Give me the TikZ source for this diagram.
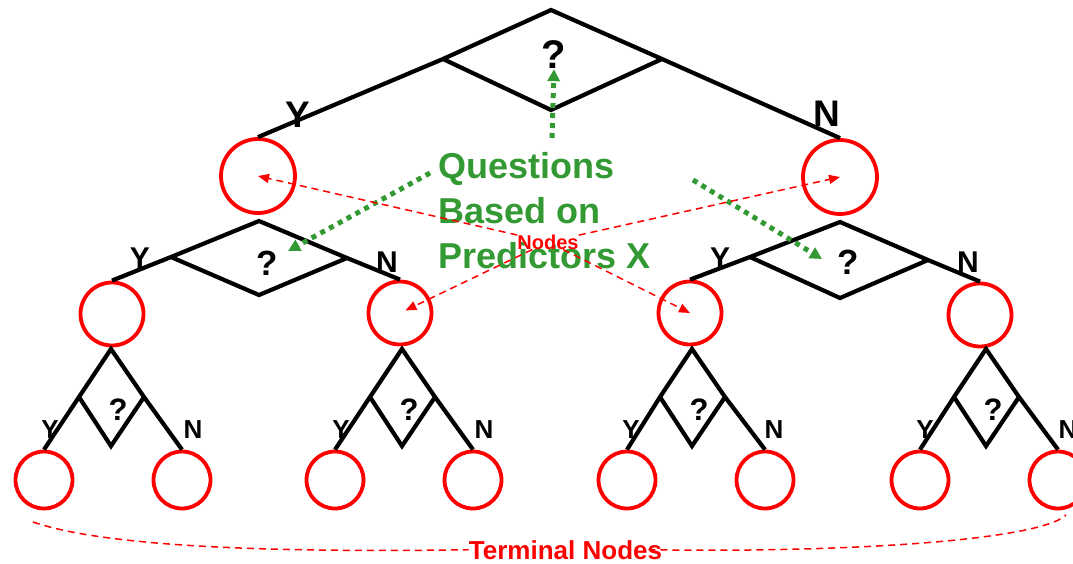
\documentclass[tikz,border=0pt]{standalone}
\usepackage{fontspec}
\setmainfont{Liberation Sans}
\usetikzlibrary{arrows.meta,calc}
\definecolor{qgreen}{RGB}{51,153,51}
\definecolor{nred}{RGB}{255,0,0}
\begin{document}
\begin{tikzpicture}[x=1pt,y=-1pt,
  branch/.style={line width=4.2pt, black, line join=miter},
  circA/.style={circle, draw=nred, line width=3.8pt, minimum size=74pt, inner sep=0pt},
  circB/.style={circle, draw=nred, line width=3.8pt, minimum size=63pt, inner sep=0pt},
  circC/.style={circle, draw=nred, line width=3.8pt, minimum size=57pt, inner sep=0pt},
  ynA/.style={font=\fontsize{37}{37}\selectfont\bfseries, inner sep=0pt},
  ynB/.style={font=\fontsize{30}{30}\selectfont\bfseries, inner sep=0pt},
  ynC/.style={font=\fontsize{26}{26}\selectfont\bfseries, inner sep=0pt},
  qmA/.style={font=\fontsize{40}{40}\selectfont\bfseries, inner sep=0pt},
  qmB/.style={font=\fontsize{35}{35}\selectfont\bfseries, inner sep=0pt},
  qmC/.style={font=\fontsize{31}{31}\selectfont\bfseries, inner sep=0pt},
  qtext/.style={font=\fontsize{36}{45}\selectfont\bfseries, text=qgreen, align=left, inner sep=0pt},
  nlabel/.style={font=\fontsize{20}{20}\selectfont\bfseries, text=nred, inner sep=0pt},
  tlabel/.style={font=\fontsize{26}{26}\selectfont\bfseries, text=nred, inner sep=0pt},
  garrow/.style={draw=qgreen, line width=5pt, dash pattern=on 5pt off 5pt, -{Triangle[length=12pt,width=12pt]}},
  rarrow/.style={draw=nred, line width=1.5pt, dash pattern=on 7pt off 5pt, -{Triangle[length=11pt,width=9pt]}},
  tdash/.style={draw=nred, line width=1.5pt, dash pattern=on 7pt off 5pt}
]
\useasboundingbox (0,0) rectangle (1073,563);

% circles
\node[circA] (c1) at (258,176) {};
\node[circA] (c2) at (840,177) {};
\node[circB] (d1) at (112,314) {};
\node[circB] (d2) at (400,313) {};
\node[circB] (d3) at (690,313) {};
\node[circB] (d4) at (980,315) {};
\node[circC] (e1) at (44,480) {};
\node[circC] (e2) at (182,480) {};
\node[circC] (e3) at (335,480) {};
\node[circC] (e4) at (473,480) {};
\node[circC] (e5) at (627,480) {};
\node[circC] (e6) at (765,480) {};
\node[circC] (e7) at (920,480) {};
\node[circC] (e8) at (1058,480) {};

% top diamond
\coordinate (t0) at (551,10);
\coordinate (l0) at (443,59);
\coordinate (r0) at (662,59);
\coordinate (b0) at (551,110);
\draw[branch] (c1.north) -- (l0) -- (t0) -- (r0) -- (c2.north);
\draw[branch] (l0) -- (b0) -- (r0);
\node[qmA] (qa) at (554,55) {?};
\node[ynA] (ya) at (298,115) {Y};
\node[ynA] (na) at (827,114) {N};

% second level diamonds
\coordinate (t1) at (259,221);
\coordinate (l1) at (171,257);
\coordinate (r1) at (347,258);
\coordinate (b1) at (259,295);
\draw[branch] (d1.north) -- (l1) -- (t1) -- (r1) -- (d2.north);
\draw[branch] (l1) -- (b1) -- (r1);
\node[qmB] (qb) at (267,263) {?};
\node[ynB] (yb) at (140,258) {Y};
\node[ynB] (nb) at (387,262) {N};

\coordinate (t2) at (840,222);
\coordinate (l2) at (750,257);
\coordinate (r2) at (928,260);
\coordinate (b2) at (840,298);
\draw[branch] (d3.north) -- (l2) -- (t2) -- (r2) -- (d4.north);
\draw[branch] (l2) -- (b2) -- (r2);
\node[qmB] (qc) at (848,262) {?};
\node[ynB] (yc) at (720,258) {Y};
\node[ynB] (nc) at (968,262) {N};

% third level diamonds
\foreach \cx/\a/\b/\i in {111/e1/e2/1, 402/e3/e4/2, 692/e5/e6/3, 986/e7/e8/4}{
  \coordinate (u\i) at (\cx,349);
  \coordinate (v\i) at (\cx-32,397);
  \coordinate (w\i) at (\cx+33,397);
  \coordinate (z\i) at (\cx,446);
  \draw[branch] (\a.north) -- (v\i) -- (u\i) -- (w\i) -- (\b.north);
  \draw[branch] (v\i) -- (z\i) -- (w\i);
  \node[qmC] (qm\i) at (\cx+7,410) {?};
  \node[ynC] (yy\i) at (\cx-61,430) {Y};
  \node[ynC] (nn\i) at (\cx+82,430) {N};
}

% green question text and arrows
\node[qtext, anchor=base west] (qt) at (438,268) {Questions\\Based on\\Predictors X};
\coordinate (g1) at (552,138);
\coordinate (g2) at (430,173);
\coordinate (g2e) at (288,251);
\coordinate (g3) at (693,180);
\coordinate (g3e) at (822,259);
\draw[garrow] (g1) -- (qa.south);
\draw[garrow] (g2) -- (g2e);
\draw[garrow] (g3) -- (g3e);

% red nodes label and arrows
\node[nlabel] (nl) at (548,242) {Nodes};
\draw[rarrow] (nl) -- (c1.center);
\draw[rarrow] (nl) -- (c2.center);
\draw[rarrow, shorten >=6pt] (nl) -- (d2.center);
\draw[rarrow] (nl) -- (d3.center);

% terminal nodes
\node[tlabel, anchor=base] (tn) at (565.5,559) {Terminal Nodes};
\coordinate (ts1) at (33,522);
\coordinate (ts2) at (1066,515);
\draw[tdash] (ts1) .. controls (100,545) and (250,553) .. (tn.west);
\draw[tdash] ([xshift=-14pt]tn.east) .. controls (850,553) and (1040,540) .. (ts2);
\end{tikzpicture}
\end{document}
